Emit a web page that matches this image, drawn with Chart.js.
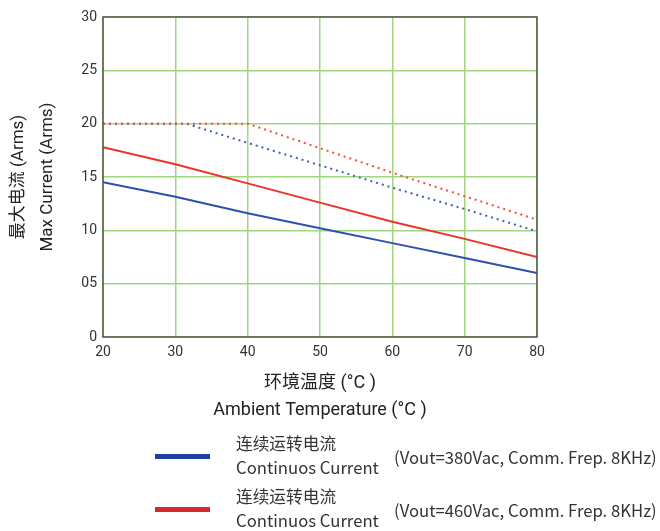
<!DOCTYPE html>
<html>
<head>
<meta charset="utf-8">
<script src="https://cdn.jsdelivr.net/npm/chart.js@4"></script>
<style>
  body { margin: 0; background: #fff; }
  #wrap { position: relative; width: 660px; height: 531px; }
  canvas { position: absolute; left: 0; top: 0; }
  .leg { position: absolute; font-family: "Noto Sans CJK SC", "Noto Sans", sans-serif; font-size: 16.7px; color: #333; line-height: 24px; white-space: nowrap; }
  .swatch { position: absolute; width: 55px; height: 5px; }
</style>
</head>
<body>
<div id="wrap">
  <canvas id="chart" width="660" height="531"></canvas>
  <div class="swatch" style="left:155px; top:454px; background:#1f3f9c;"></div>
  <div class="leg" style="left:236px; top:431px;">连续运转电流<br>Continuos Current</div>
  <div class="leg" style="left:394px; top:445px;">(Vout=380Vac, Comm. Frep. 8KHz)</div>
  <div class="swatch" style="left:155px; top:507px; background:#d42a30;"></div>
  <div class="leg" style="left:236px; top:484px;">连续运转电流<br>Continuos Current</div>
  <div class="leg" style="left:394px; top:498px;">(Vout=460Vac, Comm. Frep. 8KHz)</div>
</div>
<script>
const temps = [20, 30, 40, 50, 60, 70, 80];
const blueSolid = [14.5, 13.15, 11.6, 10.2, 8.8, 7.4, 6.0];
const redSolid = [17.8, 16.2, 14.4, 12.6, 10.8, 9.2, 7.5];

const blueDotTemps = [20, 31.5, 40, 50, 60, 70, 80];
const blueDotted = [20, 20, 18.2, 16.1, 14.0, 12.0, 9.9];
const redDotTemps = [20, 40, 50, 60, 70, 80];
const redDotted = [20, 20, 17.7, 15.4, 13.2, 11.0];

const yTickLabels = { 0: "0", 5: "05", 10: "10", 15: "15", 20: "20", 25: "25", 30: "30" };

function pts(xs, ys) {
    return xs.map((x, i) => ({ x: x, y: ys[i] }));
}

const frame = {
    id: "frame",
    afterDatasetsDraw(chart) {
        const a = chart.chartArea;
        const ctx = chart.ctx;
        ctx.save();
        ctx.strokeStyle = "#555";
        ctx.lineWidth = 1.5;
        ctx.strokeRect(a.left, a.top, a.right - a.left, a.bottom - a.top);
        ctx.restore();
    }
};

const ctx = document.getElementById("chart").getContext("2d");

new Chart(ctx, {
    type: "line",
    data: {
        datasets: [
            { data: pts(redDotTemps, redDotted), borderColor: "#f0503c", borderWidth: 2, borderDash: [2, 4], pointRadius: 0 },
            { data: pts(blueDotTemps, blueDotted), borderColor: "#3f5fb8", borderWidth: 2, borderDash: [2, 4], pointRadius: 0 },
            { data: pts(temps, redSolid), borderColor: "#ee3228", borderWidth: 2, pointRadius: 0 },
            { data: pts(temps, blueSolid), borderColor: "#2d4fae", borderWidth: 2, pointRadius: 0 }
        ]
    },
    options: {
        responsive: false,
        animation: false,
        layout: { padding: { left: 0, right: 123, top: 17, bottom: 103 } },
        plugins: { legend: { display: false }, tooltip: { enabled: false } },
        scales: {
            x: {
                type: "linear",
                min: 20, max: 80,
                afterFit: s => { s.height = 91; },
                grid: { color: "#9fd67f", lineWidth: 1.5, drawTicks: false },
                border: { display: false },
                ticks: { stepSize: 10, padding: 7, color: "#333", font: { family: "Roboto", size: 14 } },
                title: {
                    display: true,
                    text: ["环境温度 (°C )", "Ambient Temperature (°C )"],
                    color: "#222",
                    font: { family: "Roboto, 'Noto Sans CJK SC'", size: 18, lineHeight: 1.5 },
                    padding: { top: 9 }
                }
            },
            y: {
                min: 0, max: 30,
                afterFit: s => { s.width = 103; },
                grid: { color: "#9fd67f", lineWidth: 1.5, drawTicks: false },
                border: { display: false },
                ticks: {
                    stepSize: 5, padding: 6, color: "#333",
                    font: { family: "Roboto", size: 14 },
                    callback: v => yTickLabels[v]
                },
                title: {
                    display: true,
                    text: ["最大电流 (Arms)", "Max Current (Arms)"],
                    color: "#222",
                    font: { family: "Roboto, 'Noto Sans CJK SC'", size: 17, lineHeight: 1.7 },
                    padding: { top: 4, bottom: 4 }
                }
            }
        }
    },
    plugins: [frame]
});
</script>
</body>
</html>
